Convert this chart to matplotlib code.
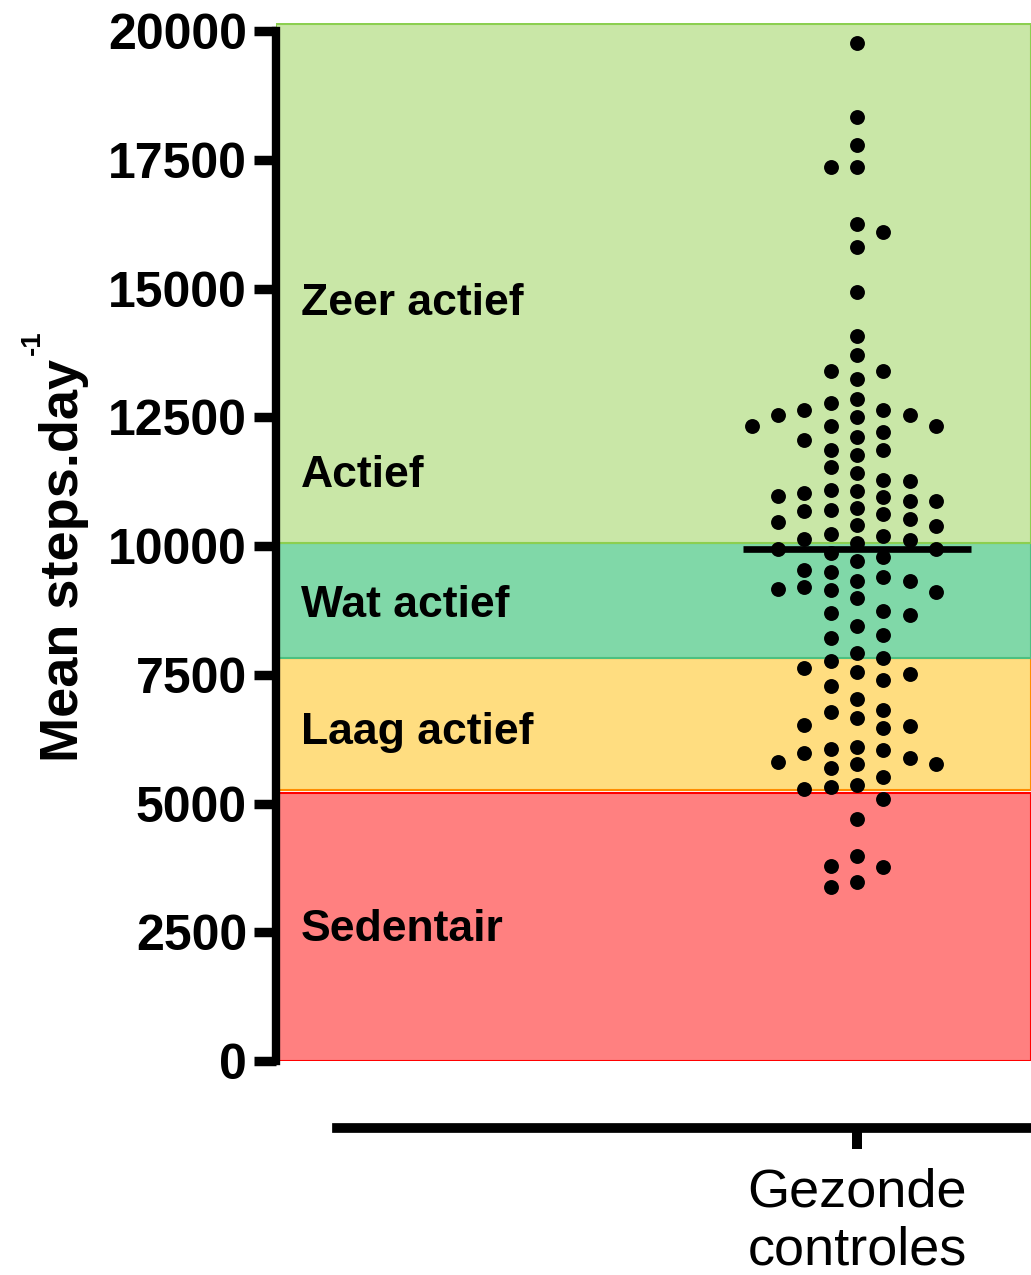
import numpy as np
import matplotlib
matplotlib.use('Agg')
import matplotlib.pyplot as plt

plt.rcParams['font.family'] = ['Liberation Sans', 'DejaVu Sans']

# gemiddeld aantal stappen per dag, gezonde controles (n = 110)
steps = np.array([
    19764, 18338, 17789, 17356, 17356, 16260, 16099, 15802, 14940,
    14085, 13711, 13400, 13400, 13244, 12856, 12784, 12551, 12540, 12637,
    12637, 12506, 12332, 12332, 12332, 12209, 12118, 12054, 11866, 11860,
    11763, 11535, 11413, 11289, 11258, 11095, 11031, 11064, 10875, 10978,
    10947, 10881, 10733, 10700, 10687, 10617, 10526, 10467, 10390, 10403,
    10229, 10196, 10118, 10143, 10065, 9949, 9943, 9794, 9860, 9710,
    9491, 9541, 9399, 9322, 9327, 9205, 9172, 9153, 9102, 8986,
    8745, 8706, 8661, 8442, 8267, 8215, 7929, 7820, 7762, 7626,
    7554, 7510, 7405, 7288, 7036, 6783, 6816, 6667, 6525, 6506,
    6473, 6065, 6092, 5987, 6040, 5890, 5762, 5807, 5690, 5774,
    5515, 5327, 5354, 5282, 5088, 4705, 3987, 3787, 3762, 3385, 3476,
])
group_labels = ['Gezonde\ncontroles']

# achtergrondbanden voor de activiteitsklassen
band_low = [0, 5270, 7830, 10050]
band_high = [5200, 7830, 10050, 20130]
band_fill = ['#ff8080', '#ffdd80', '#80d8a8', '#c9e7a7']
band_edge = ['#ff0000', '#ff8c00', '#4cc080', '#8ccf50']

zone_names = ['Sedentair', 'Laag actief', 'Wat actief', 'Actief', 'Zeer actief']
zone_text_y = [2330, 6150, 8628, 11153, 14487]

y_ticks = np.arange(0, 20001, 2500)

W, H = 1031, 1275


def px(x, y):
    return x / W, 1 - y / H


def swarm_columns(values, gap):
    """kolom per punt, zodat punten in dezelfde kolom niet overlappen"""
    cols = {}
    out = np.zeros(len(values))
    for i in np.argsort(values)[::-1]:
        v = values[i]
        for k in range(0, 10):
            cands = [0] if k == 0 else sorted([-k, k], key=lambda c: len(cols.get(c, [])))
            ok = [c for c in cands if all(abs(v - u) >= gap for u in cols.get(c, []))]
            if ok:
                cols.setdefault(ok[0], []).append(v)
                out[i] = ok[0]
                break
    return out


fig = plt.figure(figsize=(W / 100, H / 100), dpi=100)
ax_left = 275.8
ax_bottom = 1061
y_top = 20160
px_per_step = 1 / 19.42
ax = fig.add_axes([ax_left / W, 1 - ax_bottom / H, 1 - ax_left / W,
                   y_top * px_per_step / H])

col_px = 26.3
center_px = 857
ax.set_xlim(-(center_px - ax_left) / col_px, (W - center_px) / col_px)
ax.set_ylim(0, y_top)

for lo, hi, fc, ec in zip(band_low, band_high, band_fill, band_edge):
    ax.axhspan(lo, hi, facecolor=fc, edgecolor=ec, linewidth=1.5, zorder=0)

for name, ty in zip(zone_names, zone_text_y):
    ax.text(-21.15, ty, name, fontsize=32, fontweight='bold', va='baseline',
            ha='left', zorder=2)

x = swarm_columns(steps, 330)
ax.scatter(x, steps, s=115, color='black', linewidths=0, zorder=3)
ax.hlines(np.median(steps), -4.35, 4.35, color='black', linewidth=4.8, zorder=4)

# assen
for side in ['top', 'right']:
    ax.spines[side].set_visible(False)
ax.spines['left'].set_linewidth(6)
ax.spines['left'].set_bounds(0, 20000)
ax.spines['left'].set_capstyle('projecting')
ax.spines['bottom'].set_linewidth(7)
ax.spines['bottom'].set_position(('outward', 47.9))
ax.spines['bottom'].set_bounds((337 - center_px) / col_px, (W - center_px) / col_px)

ax.set_yticks(y_ticks)
ax.set_yticklabels([str(t) for t in y_ticks])
ax.tick_params(axis='y', length=15.5, width=6.8, pad=5.3, labelsize=36)
for lab in ax.get_yticklabels():
    lab.set_fontweight('bold')

ax.set_xticks([0])
ax.set_xticklabels(group_labels)
ax.tick_params(axis='x', length=15, width=7.2, pad=14, labelsize=39)
for lab in ax.get_xticklabels():
    lab.set_linespacing(1.2)

fig.text(*px(78, 560), 'Mean steps.day', rotation=90, rotation_mode='anchor',
         ha='center', va='baseline', fontsize=39, fontweight='bold')
fig.text(*px(40, 355), '-1', rotation=90, rotation_mode='anchor',
         ha='left', va='baseline', fontsize=20, fontweight='bold')

fig.savefig('out.png', dpi=100)
